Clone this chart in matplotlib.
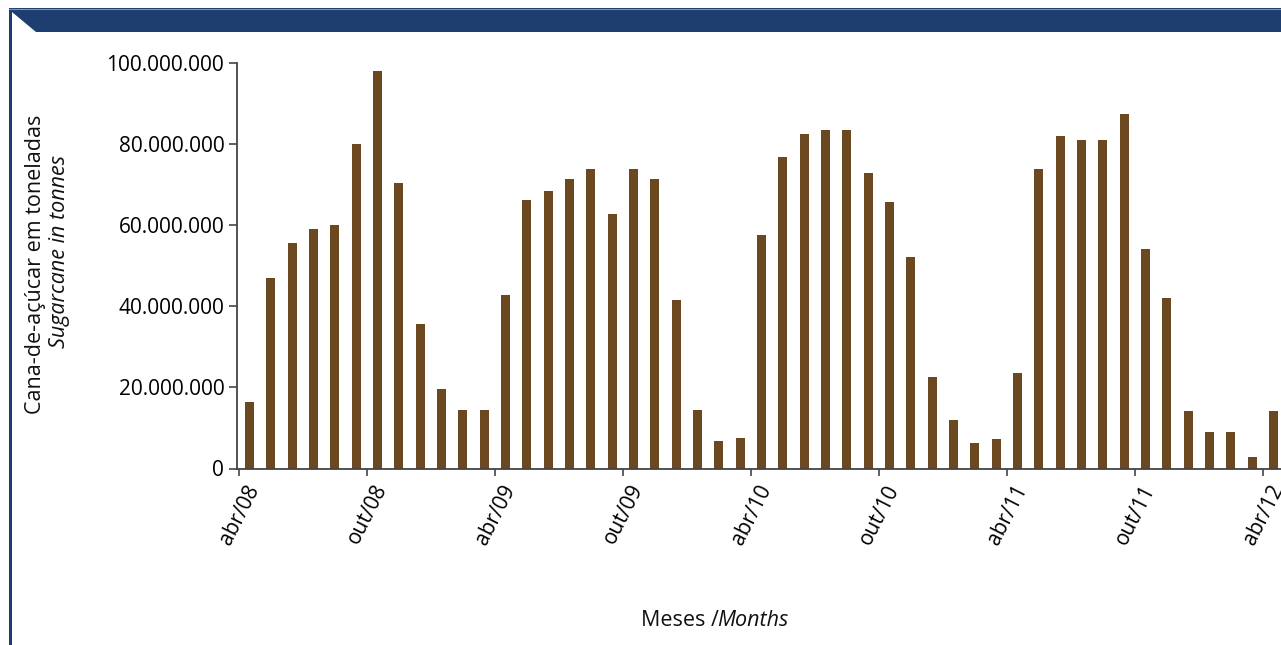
import matplotlib
matplotlib.use("Agg")
import matplotlib.pyplot as plt
from matplotlib.patches import Polygon
from matplotlib.ticker import FuncFormatter

# ---- data ----
months = ["abr/08", "mai/08", "jun/08", "jul/08", "ago/08", "set/08", "out/08", "nov/08", "dez/08",
          "jan/09", "fev/09", "mar/09", "abr/09", "mai/09", "jun/09", "jul/09", "ago/09", "set/09",
          "out/09", "nov/09", "dez/09", "jan/10", "fev/10", "mar/10", "abr/10", "mai/10", "jun/10",
          "jul/10", "ago/10", "set/10", "out/10", "nov/10", "dez/10", "jan/11", "fev/11", "mar/11",
          "abr/11", "mai/11", "jun/11", "jul/11", "ago/11", "set/11", "out/11", "nov/11", "dez/11",
          "jan/12", "fev/12", "mar/12", "abr/12"]
values_mt = [16.3, 46.9, 55.6, 59.0, 60.1, 80.2, 98.0, 70.5, 35.6,
             19.6, 14.4, 14.4, 42.7, 66.2, 68.6, 71.5, 73.9, 62.8,
             73.9, 71.5, 41.7, 14.4, 6.7, 7.6, 57.6, 76.8, 82.6,
             83.5, 83.5, 72.9, 65.8, 52.3, 22.5, 11.9, 6.2, 7.2,
             23.5, 73.9, 82.1, 81.1, 81.1, 87.4, 54.2, 42.2, 14.3,
             9.0, 9.0, 2.8, 14.3]
values = [v * 1e6 for v in values_mt]
tick_labels = ["abr/08", "out/08", "abr/09", "out/09", "abr/10", "out/10", "abr/11", "out/11", "abr/12"]
y_ticks = [0, 20e6, 40e6, 60e6, 80e6, 100e6]

W, H = 1281, 645
plt.rcParams['font.family'] = ['Open Sans', 'DejaVu Sans']
fig = plt.figure(figsize=(W / 100, H / 100), dpi=100)
fig.patch.set_facecolor("white")

def fx(x):
    return x / W

def fy(y):
    return 1 - y / H

# ---- frame: header band with notch + left border ----
blue = "#1d3e6e"
poly = [(9, 8), (W + 2, 8), (W + 2, 32), (36, 32), (12, 12), (12, H + 2), (9, H + 2)]
fig.patches.append(Polygon([(fx(x), fy(y)) for x, y in poly], closed=True,
                           transform=fig.transFigure, facecolor=blue, edgecolor="none", zorder=0))
fig.add_artist(plt.Line2D([fx(9), fx(W)], [fy(8.5), fy(8.5)], transform=fig.transFigure,
                          color="#7f93b3", lw=0.8))

# ---- axes ----
px_per_month = 21.333
x_left_data = -0.085
x_right_data = 49.5
ax_left_px = 239.3 + x_left_data * px_per_month
ax_w_px = (x_right_data - x_left_data) * px_per_month
ax_bottom_px = 468.5
ax_top_px = 63.3
ax = fig.add_axes([fx(ax_left_px), fy(ax_bottom_px), ax_w_px / W, (ax_bottom_px - ax_top_px) / H])
ax.set_facecolor("none")

xs = [i + 0.48 for i in range(len(values))]
ax.bar(xs, values, width=0.41, color="#6b4820", edgecolor="none", zorder=2)

ax.set_xlim(x_left_data, x_right_data)
ax.set_ylim(0, 100e6)

tick_pos = [months.index(t) for t in tick_labels]
ax.set_xticks(tick_pos)
ax.set_xticklabels(tick_labels, rotation=63, fontsize=15)
ax.set_yticks(y_ticks)
ax.yaxis.set_major_formatter(FuncFormatter(lambda v, p: f"{int(round(v)):,}".replace(",", ".")))
ax.tick_params(axis='y', labelsize=15, length=6, width=1.2, color="#444444", pad=3.5)
ax.tick_params(axis='x', length=5, width=1.2, color="#444444", pad=4.0)

for s in ["top", "right"]:
    ax.spines[s].set_visible(False)
for s in ["left", "bottom"]:
    ax.spines[s].set_color("#444444")
    ax.spines[s].set_linewidth(1.3)

# ---- axis titles ----
fig.text(fx(36), fy(264), "Cana-de-açúcar em toneladas", rotation=90, ha="center", va="center",
         fontsize=15.5, color="#111111")
fig.text(fx(60), fy(252), "Sugarcane in tonnes", rotation=90, ha="center", va="center",
         fontsize=15.5, style="italic", color="#111111")
fig.text(fx(719), fy(621), "Meses /", ha="right", va="center", fontsize=15.5, color="#111111")
fig.text(fx(717), fy(621), "Months", ha="left", va="center", fontsize=15.5, style="italic", color="#111111")

fig.savefig("out.png", dpi=100, facecolor="white")
